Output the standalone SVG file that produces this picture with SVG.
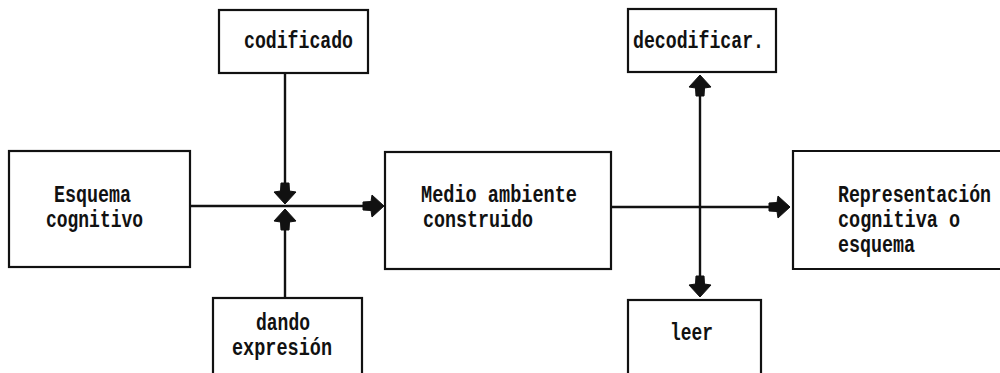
<svg xmlns="http://www.w3.org/2000/svg" xmlns:xlink="http://www.w3.org/1999/xlink" width="1000" height="373" viewBox="0 0 1000 373">
<style>
.box{fill:#fff;stroke:#111;stroke-width:2.2}
.t{font-family:"Liberation Mono","Courier New",monospace;font-size:23px;font-weight:bold;fill:#111}
.ln{stroke:#111;stroke-width:2.4;fill:none}
</style>
<defs>
<path id="ah" d="M0,0 L-12,-11 L-13,-4.5 L-21,-4 L-21,4 L-13,4.5 L-12,11 Z" fill="#111" stroke="#111" stroke-width="1" stroke-linejoin="round"/>
</defs>
<rect width="1000" height="373" fill="#fff"/>
<g id="connectors">
<line class="ln" x1="190" y1="206" x2="372" y2="206"/>
<use xlink:href="#ah" transform="translate(384,206)"/>
<line class="ln" x1="285" y1="73" x2="285" y2="192"/>
<use xlink:href="#ah" transform="translate(285,204) rotate(90)"/>
<line class="ln" x1="285" y1="298" x2="285" y2="220"/>
<use xlink:href="#ah" transform="translate(285,209) rotate(-90)"/>
<line class="ln" x1="611" y1="207" x2="778" y2="207"/>
<use xlink:href="#ah" transform="translate(790,207)"/>
<line class="ln" x1="700" y1="86" x2="700" y2="285"/>
<use xlink:href="#ah" transform="translate(700,75) rotate(-90)"/>
<use xlink:href="#ah" transform="translate(700,297) rotate(90)"/>
</g>
<g id="codificado">
<rect class="box" x="219" y="10" width="149" height="63"/>
<text class="t" x="244" y="48" textLength="109" lengthAdjust="spacingAndGlyphs">codificado</text>
</g>
<g id="esquema">
<rect class="box" x="9" y="151" width="181" height="116"/>
<text class="t" x="54" y="202" textLength="77" lengthAdjust="spacingAndGlyphs">Esquema</text>
<text class="t" x="46" y="227" textLength="97" lengthAdjust="spacingAndGlyphs">cognitivo</text>
</g>
<g id="dando">
<rect class="box" x="213" y="298" width="149" height="80"/>
<text class="t" x="256" y="330" textLength="54" lengthAdjust="spacingAndGlyphs">dando</text>
<text class="t" x="232" y="355" textLength="100" lengthAdjust="spacingAndGlyphs">expresión</text>
</g>
<g id="medio">
<rect class="box" x="385" y="152" width="226" height="117"/>
<text class="t" x="421" y="202" textLength="156" lengthAdjust="spacingAndGlyphs">Medio ambiente</text>
<text class="t" x="423" y="227" textLength="110" lengthAdjust="spacingAndGlyphs">construido</text>
</g>
<g id="decodificar">
<rect class="box" x="628" y="9" width="148" height="63"/>
<text class="t" x="633" y="48" textLength="131" lengthAdjust="spacingAndGlyphs">decodificar.</text>
</g>
<g id="leer">
<rect class="box" x="628" y="300" width="133" height="80"/>
<text class="t" x="670" y="340" textLength="43" lengthAdjust="spacingAndGlyphs">leer</text>
</g>
<g id="representacion">
<path class="box" d="M1001,151 H793 V269 H1001"/>
<text class="t" x="838" y="202" textLength="153" lengthAdjust="spacingAndGlyphs">Representación</text>
<text class="t" x="838" y="227" textLength="122" lengthAdjust="spacingAndGlyphs">cognitiva o</text>
<text class="t" x="838" y="252" textLength="77" lengthAdjust="spacingAndGlyphs">esquema</text>
</g>
</svg>
